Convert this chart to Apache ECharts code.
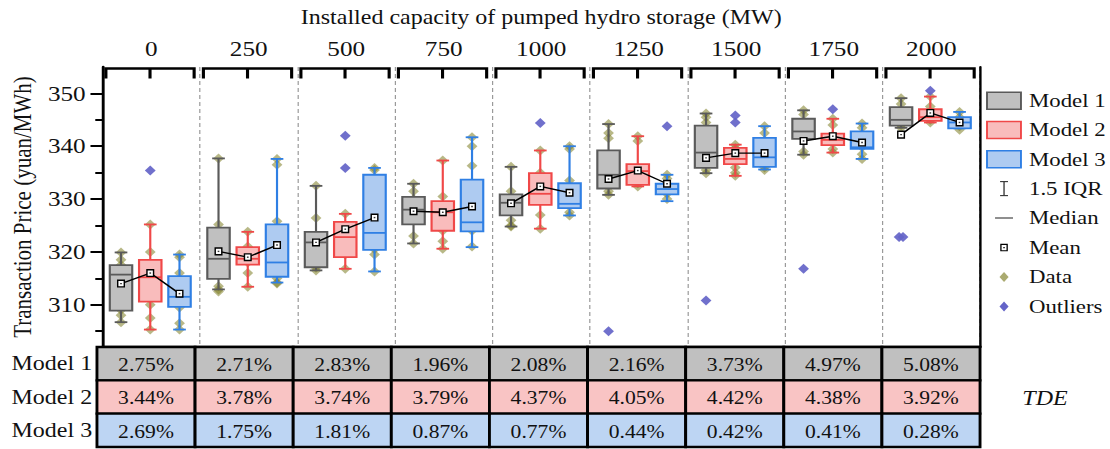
<!DOCTYPE html>
<html>
<head>
<meta charset="utf-8">
<script src="https://cdn.jsdelivr.net/npm/echarts@6/dist/echarts.min.js"></script>
<style>
  html, body { margin: 0; padding: 0; background: #fff; overflow: hidden; }
  #wrap { width: 1110px; height: 449px; overflow: hidden; }
  /* the figure is laid out narrow and widened horizontally */
  #chart { width: 925px; height: 449px; transform: scaleX(1.2); transform-origin: 0 0; }
</style>
</head>
<body>
<div id="wrap"><div id="chart"></div></div>
<script>
// ---- categories and tick labels ----
const capacities = ['0', '250', '500', '750', '1000', '1250', '1500', '1750', '2000'];
const models = ['Model 1', 'Model 2', 'Model 3'];
const yTicks = [310, 320, 330, 340, 350];
const yMinorTicks = [305, 315, 325, 335, 345];
const legendLabels = ['Model 1', 'Model 2', 'Model 3', '1.5 IQR', 'Median', 'Mean', 'Data', 'Outliers'];

// ---- box statistics per capacity: [lower whisker, Q1, median, Q3, upper whisker] ----
const box1 = [
  [306.7, 308.9, 315.7, 317.5, 319.9], [312.9, 314.9, 318.7, 324.6, 337.7], [316.5, 317.1, 321.8, 323.8, 332.5],
  [321.6, 325.2, 328.0, 330.4, 332.9], [324.8, 326.9, 329.3, 330.9, 336.1], [330.8, 332.0, 334.6, 339.2, 344.2],
  [334.9, 335.9, 338.8, 343.9, 346.2], [338.4, 341.4, 342.8, 345.2, 346.8], [343.5, 343.9, 345.0, 347.4, 349.1]
];
const box2 = [
  [305.3, 310.6, 315.2, 318.5, 325.2], [313.4, 317.6, 318.7, 320.9, 323.8], [316.8, 319.0, 322.8, 325.7, 327.2],
  [320.6, 324.0, 327.5, 329.6, 337.3], [324.4, 328.9, 331.0, 334.9, 339.2], [332.4, 332.7, 335.3, 336.6, 341.9],
  [334.4, 336.6, 337.6, 339.7, 340.3], [338.8, 340.2, 341.2, 342.4, 345.2], [344.5, 344.8, 345.5, 347.0, 349.4]
];
const box3 = [
  [305.3, 309.6, 311.5, 315.4, 319.5], [314.2, 315.3, 318.0, 325.2, 337.6], [316.3, 320.4, 323.6, 334.6, 335.9],
  [320.9, 323.9, 325.6, 333.7, 341.7], [326.9, 328.3, 329.1, 333.0, 340.0], [329.6, 330.9, 331.9, 332.9, 334.6],
  [335.6, 336.1, 337.9, 341.6, 343.8], [337.6, 339.5, 339.8, 342.8, 344.3], [343.4, 343.4, 344.5, 345.5, 346.5]
];

// ---- means ----
const mean1 = [314.0, 320.1, 321.8, 327.7, 329.2, 333.8, 337.8, 341.0, 342.2];
const mean2 = [316.0, 319.0, 324.3, 327.5, 332.4, 335.4, 338.7, 341.9, 346.3];
const mean3 = [312.1, 321.3, 326.5, 328.6, 331.2, 332.9, 338.7, 340.7, 344.5];

// ---- individual observations ----
const points1 = [
  [319.9, 318.5, 317.5, 309.0, 308.0, 306.7], [337.7, 325.2, 313.5, 312.9, 312.5], [332.5, 326.4, 321.0, 317.0, 316.5],
  [332.9, 331.5, 330.0, 326.0, 323.0, 321.6], [336.1, 331.5, 326.0, 325.0, 324.8], [344.2, 342.5, 341.5, 331.5, 330.8],
  [346.2, 345.5, 344.5, 335.5, 334.9], [346.8, 346.0, 343.5, 339.0, 338.4], [349.1, 348.0, 346.0, 344.0, 343.5]
];
const points2 = [
  [325.2, 320.0, 315.0, 310.0, 307.5, 305.3], [323.8, 321.0, 318.0, 316.0, 313.4], [327.2, 319.5, 316.8],
  [337.3, 330.5, 328.0, 324.0, 322.0, 320.6], [339.2, 335.0, 327.0, 324.4], [341.9, 341.0, 336.0, 333.0, 332.4],
  [340.3, 339.6, 336.0, 335.0, 334.4], [345.2, 344.0, 342.0, 341.0, 339.5, 338.8], [349.4, 347.5, 346.5, 345.0, 344.5]
];
const points3 = [
  [319.5, 319.0, 316.0, 313.0, 309.5, 306.5, 305.3], [337.6, 336.5, 325.8, 315.0, 314.2, 314.0], [335.9, 335.5, 320.5, 319.5, 316.3],
  [341.7, 340.0, 336.3, 324.0, 321.0], [340.0, 339.5, 333.5, 327.5, 326.9], [334.6, 333.9, 331.0, 330.0],
  [343.8, 342.5, 341.0, 336.0, 335.5], [344.3, 343.5, 339.8, 338.5, 337.6], [346.5, 345.5, 343.8, 343.1]
];

// ---- outliers ----
const outliers1 = [[], [], [], [], [], [305.0], [310.8], [316.8], [322.8, 322.8]];
const outliers2 = [[335.4], [], [342.0, 335.9], [], [344.4], [], [345.8, 344.5], [347.0], [350.5]];
const outliers3 = [[], [], [], [], [], [343.8], [], [], []];

// ---- TDE table ----
const tde1 = [2.75, 2.71, 2.83, 1.96, 2.08, 2.16, 3.73, 4.97, 5.08];
const tde2 = [3.44, 3.78, 3.74, 3.79, 4.37, 4.05, 4.42, 4.38, 3.92];
const tde3 = [2.69, 1.75, 1.81, 0.87, 0.77, 0.44, 0.42, 0.41, 0.28];

// ---- styling ----
const FONT = '"Liberation Serif", "Times New Roman", serif';
const STROKES = ['#5a5a5a', '#f04848', '#2f7fe4'];
const FILLS = ['#c0c0c0', '#f9bcbc', '#aecbf1'];
const TABLE_FILLS = ['#c0c0c0', '#f9c4c4', '#bdd5f3'];
const DATA_COLOR = 'rgba(125,125,35,0.68)';
const OUTLIER_COLOR = '#6464c8';
const OFFSETS = [-0.31, -0.01, 0.29];
const BOX_W = 0.23;
const CAP_W = 0.13;

const boxes = [box1, box2, box3];
const means = [mean1, mean2, mean3];
const pointSets = [points1, points2, points3];
const outlierSets = [outliers1, outliers2, outliers3];
const tdeRows = [tde1, tde2, tde3];

function boxRenderer(k) {
  const stroke = STROKES[k], fill = FILLS[k];
  return function (params, api) {
    const cx = api.value(0) + 0.5 + OFFSETS[k];
    const y = [1, 2, 3, 4, 5].map(d => api.coord([cx, api.value(d)])[1]);
    const px = v => api.coord([v, 330])[0];
    const xc = px(cx), xl = px(cx - BOX_W / 2), xr = px(cx + BOX_W / 2);
    const cl = px(cx - CAP_W / 2), cr = px(cx + CAP_W / 2);
    const seg = (x1, y1, x2, y2) => ({ type: 'line', shape: { x1, y1, x2, y2 }, style: { stroke, lineWidth: 1.8 } });
    return {
      type: 'group',
      children: [
        seg(xc, y[3], xc, y[4]), seg(cl, y[4], cr, y[4]),
        seg(xc, y[1], xc, y[0]), seg(cl, y[0], cr, y[0]),
        { type: 'rect', shape: { x: xl, y: y[3], width: xr - xl, height: y[1] - y[3] },
          style: { fill, stroke, lineWidth: 1.8 } },
        seg(xl, y[2], xr, y[2])
      ]
    };
  };
}

function bracketRenderer(params, api) {
  const g = api.value(0);
  const top = params.coordSys.y + 1.5;
  const x0 = api.coord([g + 0.035, 330])[0];
  const x1 = api.coord([g + 0.94, 330])[0];
  const xm = (x0 + x1) / 2;
  const style = { stroke: '#000', lineWidth: 2.6, fill: null };
  return {
    type: 'group',
    children: [
      { type: 'polyline', shape: { points: [[x0, top + 10], [x0, top], [x1, top], [x1, top + 10]] }, style },
      { type: 'line', shape: { x1: xm, y1: top, x2: xm, y2: top + 10 }, style }
    ]
  };
}

function cellRenderer(params, api) {
  const col = api.value(0), row = api.value(1);
  const c = api.coord([col, row]);
  const s = api.size([1, 1]);
  return {
    type: 'group',
    children: [
      { type: 'rect', shape: { x: c[0] - s[0] / 2, y: c[1] - s[1] / 2, width: s[0], height: s[1] },
        style: { fill: TABLE_FILLS[row], stroke: '#000', lineWidth: 2.4 } },
      { type: 'text', style: { text: api.value(2).toFixed(2) + '%', x: c[0], y: c[1] + 1,
        align: 'center', verticalAlign: 'middle', fontSize: 18, fontFamily: FONT, fill: '#111' } }
    ]
  };
}

// observations and outliers placed at the box position of their model
function spread(list, g, k) {
  const out = [];
  list.forEach((v, j) => {
    const dup = list.filter(w => w === v).length;
    const idx = list.slice(0, j).filter(w => w === v).length;
    const shift = dup > 1 ? (idx - (dup - 1) / 2) * 0.04 : 0;
    out.push([g + 0.5 + OFFSETS[k] + shift, v]);
  });
  return out;
}
const dataPoints = [], outlierPoints = [];
for (let k = 0; k < 3; k++) {
  capacities.forEach((c, g) => {
    dataPoints.push(...spread(pointSets[k][g], g, k));
    outlierPoints.push(...spread(outlierSets[k][g], g, k));
  });
}

const series = [];
series.push({
  type: 'scatter', name: 'Data', xAxisIndex: 0, yAxisIndex: 0, data: dataPoints,
  symbol: 'diamond', symbolSize: [9, 10], itemStyle: { color: DATA_COLOR }, z: 2, silent: true
});
for (let k = 0; k < 3; k++) {
  series.push({
    type: 'custom', name: models[k], xAxisIndex: 0, yAxisIndex: 0,
    data: boxes[k].map((b, g) => [g, ...b]),
    encode: { x: 0, y: [1, 2, 3, 4, 5] },
    renderItem: boxRenderer(k), z: 3, silent: true
  });
}
series.push({
  type: 'scatter', name: 'Outliers', xAxisIndex: 0, yAxisIndex: 0, data: outlierPoints,
  symbol: 'diamond', symbolSize: [9, 10], itemStyle: { color: OUTLIER_COLOR, opacity: 0.92 }, z: 4, silent: true
});
capacities.forEach((c, g) => {
  series.push({
    type: 'line', name: 'Mean', xAxisIndex: 0, yAxisIndex: 0,
    data: means.map((m, k) => [g + 0.5 + OFFSETS[k], m[g]]),
    symbol: 'rect', symbolSize: [5.5, 6.6], showSymbol: true,
    lineStyle: { color: '#000', width: 1.4 },
    itemStyle: { color: '#fff', borderColor: '#000', borderWidth: 1.3 },
    z: 5, silent: true, animation: false
  });
});
series.push({
  type: 'scatter', name: 'MeanDot', xAxisIndex: 0, yAxisIndex: 0,
  data: capacities.flatMap((c, g) => means.map((m, k) => [g + 0.5 + OFFSETS[k], m[g]])),
  symbol: 'rect', symbolSize: 1.4, itemStyle: { color: '#000' }, z: 6, silent: true
});
series.push({
  type: 'custom', name: 'Brackets', xAxisIndex: 0, yAxisIndex: 0,
  data: capacities.map((c, g) => [g, 354]), encode: { x: 0, y: 1 },
  renderItem: bracketRenderer, clip: false, z: 6, silent: true
});
series.push({
  type: 'custom', name: 'TDE', xAxisIndex: 2, yAxisIndex: 3,
  data: tdeRows.flatMap((row, r) => row.map((v, col) => [col, r, v])),
  encode: { x: 0, y: 1 },
  renderItem: cellRenderer, z: 2, silent: true
});

// legend drawn as graphic elements at the right side
const LX = 836.7;
const legendY = [100.7, 130, 159.3, 188.6, 218, 247.6, 277, 306.4];
const legendGraphics = [];
for (let k = 0; k < 3; k++) {
  legendGraphics.push({ type: 'rect', shape: { x: 822.5, y: legendY[k] - 8.5, width: 28.3, height: 17 },
    style: { fill: FILLS[k], stroke: STROKES[k], lineWidth: 1.6 } });
}
legendGraphics.push(
  { type: 'line', shape: { x1: LX, y1: legendY[3] - 7, x2: LX, y2: legendY[3] + 7 }, style: { stroke: '#333', lineWidth: 1.1 } },
  { type: 'line', shape: { x1: LX - 3.3, y1: legendY[3] - 7, x2: LX + 3.3, y2: legendY[3] - 7 }, style: { stroke: '#333', lineWidth: 1.1 } },
  { type: 'line', shape: { x1: LX - 3.3, y1: legendY[3] + 7, x2: LX + 3.3, y2: legendY[3] + 7 }, style: { stroke: '#333', lineWidth: 1.1 } },
  { type: 'line', shape: { x1: LX - 7.5, y1: legendY[4], x2: LX + 7.5, y2: legendY[4] }, style: { stroke: '#333', lineWidth: 1.1 } },
  { type: 'rect', shape: { x: LX - 2.6, y: legendY[5] - 3.2, width: 5.2, height: 6.4 }, style: { fill: '#fff', stroke: '#000', lineWidth: 1.1 } },
  { type: 'rect', shape: { x: LX - 0.6, y: legendY[5] - 0.6, width: 1.2, height: 1.2 }, style: { fill: '#000' } },
  { type: 'polygon', shape: { points: [[LX, legendY[6] - 5], [LX + 3.8, legendY[6]], [LX, legendY[6] + 5], [LX - 3.8, legendY[6]]] }, style: { fill: 'rgba(125,125,35,0.65)' } },
  { type: 'polygon', shape: { points: [[LX, legendY[7] - 5], [LX + 3.8, legendY[7]], [LX, legendY[7] + 5], [LX - 3.8, legendY[7]]] }, style: { fill: OUTLIER_COLOR } }
);
legendLabels.forEach((t, i) => {
  legendGraphics.push({ type: 'text', x: 857.5, y: legendY[i],
    style: { text: t, fontSize: 19, fontFamily: FONT, fill: '#111', verticalAlign: 'middle' } });
});
legendGraphics.push({ type: 'text', x: 870.8, y: 398,
  style: { text: 'TDE', fontSize: 20, fontStyle: 'italic', fontFamily: FONT, fill: '#111', align: 'center', verticalAlign: 'middle' } });

const chart = echarts.init(document.getElementById('chart'), null, { renderer: 'svg', width: 925, height: 449 });
chart.setOption({
  animation: false,
  backgroundColor: '#fff',
  textStyle: { fontFamily: FONT },
  grid: [
    { left: 80.8, right: 108.3, top: 67, height: 280 },
    { left: 80.8, right: 108.3, top: 347, height: 100 }
  ],
  xAxis: [
    { type: 'value', gridIndex: 0, min: 0, max: 9, interval: 1, position: 'bottom',
      axisLine: { lineStyle: { color: '#000', width: 2.4 } }, axisTick: { show: false }, axisLabel: { show: false },
      splitLine: { show: true, lineStyle: { color: '#9a9a9a', width: 1, type: [4, 3] } } },
    { type: 'category', gridIndex: 0, data: capacities, position: 'top',
      axisLine: { show: false }, axisTick: { show: false },
      axisLabel: { fontSize: 21, color: '#111', margin: 8, fontFamily: FONT },
      name: 'Installed capacity of pumped hydro storage (MW)', nameLocation: 'middle', nameGap: 40,
      nameTextStyle: { fontSize: 20, color: '#111', fontFamily: FONT } },
    { type: 'category', gridIndex: 1, data: capacities, show: false }
  ],
  yAxis: [
    { type: 'value', gridIndex: 0, min: 302, max: 355, position: 'left',
      axisLine: { show: true, lineStyle: { color: '#000', width: 2.4 } },
      axisTick: { show: true, customValues: yTicks, length: 10, lineStyle: { color: '#000', width: 2 } },
      axisLabel: { customValues: yTicks, fontSize: 21, color: '#111', margin: 14, fontFamily: FONT },
      splitLine: { show: false },
      name: 'Transaction Price (yuan/MWh)', nameLocation: 'middle', nameGap: 55,
      nameTextStyle: { fontSize: 21, color: '#111', fontFamily: FONT } },
    { type: 'value', gridIndex: 0, min: 302, max: 355, position: 'left',
      axisLine: { show: false },
      axisTick: { show: true, customValues: yMinorTicks, length: 6, lineStyle: { color: '#000', width: 2 } },
      axisLabel: { show: false }, splitLine: { show: false } },
    { type: 'value', gridIndex: 0, min: 302, max: 355, position: 'right',
      axisLine: { show: true, lineStyle: { color: '#000', width: 2 } },
      axisTick: { show: false }, axisLabel: { show: false }, splitLine: { show: false } },
    { type: 'category', gridIndex: 1, data: models, inverse: true,
      axisLine: { show: false }, axisTick: { show: false },
      axisLabel: { fontSize: 20, color: '#111', margin: 4, fontFamily: FONT } }
  ],
  graphic: legendGraphics,
  series
});
</script>
</body>
</html>
